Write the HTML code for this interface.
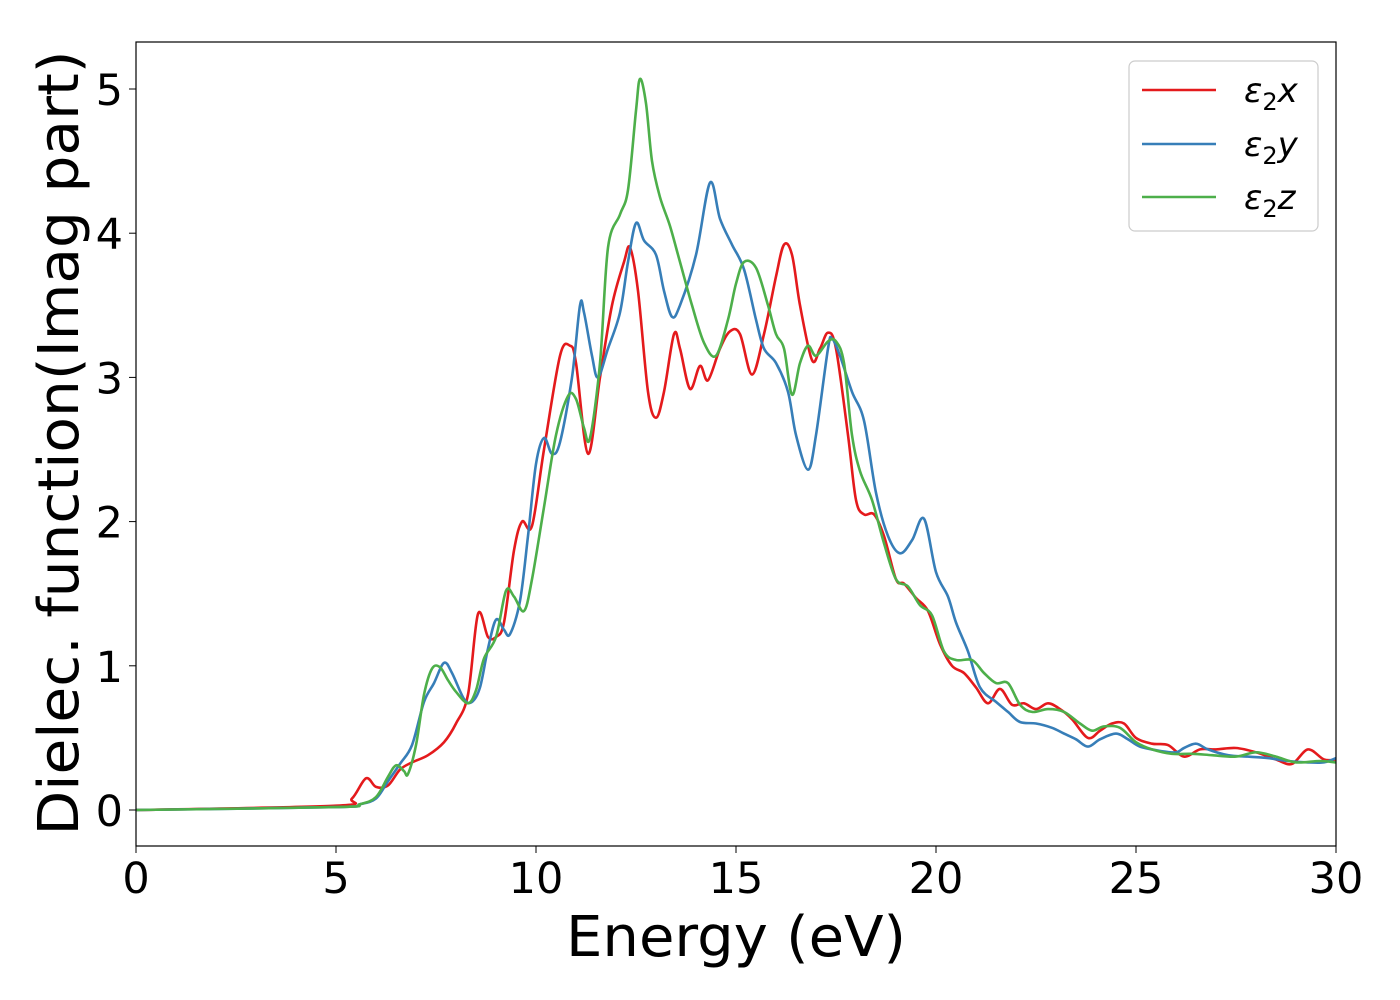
<!DOCTYPE html>
<html><head><meta charset="utf-8"><style>
html,body{margin:0;padding:0;background:#fff;}
svg{display:block;font-family:"DejaVu Sans","Liberation Sans",sans-serif;}
</style></head><body>
<svg id="chart" width="1400" height="1000" viewBox="0 0 1400 1000">
<rect x="0" y="0" width="1400" height="1000" fill="#fff"/>
<g id="series"></g>
<rect x="136" y="42" width="1200" height="804" fill="none" stroke="#000" stroke-width="1.2"/>
<g id="xticks"></g>
<g id="yticks"></g>
<text x="736" y="956" font-size="56" text-anchor="middle" textLength="340" lengthAdjust="spacingAndGlyphs">Energy (eV)</text>
<text transform="translate(78,443) rotate(-90)" font-size="56" text-anchor="middle" textLength="785" lengthAdjust="spacingAndGlyphs">Dielec. function(Imag part)</text>
<g>
<rect x="1129" y="61" width="189" height="170" rx="6" fill="#fff" stroke="#ccc" stroke-width="1.2"/>
<g>
<line x1="1142" y1="90" x2="1216" y2="90" stroke="#e41a1c" stroke-width="2.5"/>
<text x="1244" y="102" font-size="34" font-style="italic">ε<tspan font-style="normal" font-size="24" dy="8">2</tspan><tspan dy="-8">x</tspan></text></g>
<g>
<line x1="1142" y1="144" x2="1216" y2="144" stroke="#377eb8" stroke-width="2.5"/>
<text x="1244" y="156" font-size="34" font-style="italic">ε<tspan font-style="normal" font-size="24" dy="8">2</tspan><tspan dy="-8">y</tspan></text></g>
<g>
<line x1="1142" y1="197" x2="1216" y2="197" stroke="#4daf4a" stroke-width="2.5"/>
<text x="1244" y="209" font-size="34" font-style="italic">ε<tspan font-style="normal" font-size="24" dy="8">2</tspan><tspan dy="-8">z</tspan></text></g>
</g>
</svg>
<script>
const xTicks=[0,5,10,15,20,25,30];
const yTicks=[0,1,2,3,4,5];
const redE=[0,5.0,5.4,5.75,6.0,6.3,6.6,6.9,7.3,7.7,8.0,8.3,8.55,8.8,9.0,9.2,9.45,9.65,9.9,10.2,10.6,10.85,11.0,11.3,11.6,11.9,12.2,12.35,12.55,12.8,13.0,13.2,13.45,13.6,13.85,14.1,14.3,14.6,14.85,15.1,15.4,15.7,16.0,16.2,16.4,16.6,16.9,17.1,17.3,17.5,17.8,18.0,18.2,18.45,18.7,19.0,19.2,19.5,19.8,20.1,20.4,20.7,21.0,21.3,21.6,21.9,22.2,22.5,22.8,23.1,23.4,23.8,24.1,24.4,24.7,25.0,25.4,25.8,26.2,26.6,27.0,27.5,28.0,28.5,28.9,29.3,29.7,30];
const redV=[0,0.03,0.08,0.22,0.16,0.17,0.28,0.33,0.38,0.47,0.6,0.8,1.36,1.2,1.2,1.3,1.8,2.0,1.97,2.5,3.15,3.22,3.1,2.47,3.0,3.5,3.8,3.9,3.6,2.9,2.72,2.9,3.3,3.2,2.92,3.08,2.98,3.2,3.32,3.3,3.02,3.3,3.7,3.92,3.85,3.5,3.12,3.2,3.31,3.2,2.6,2.15,2.05,2.05,1.9,1.6,1.57,1.47,1.38,1.15,1.0,0.95,0.85,0.74,0.84,0.73,0.74,0.7,0.74,0.7,0.63,0.5,0.55,0.6,0.6,0.5,0.46,0.45,0.37,0.42,0.42,0.43,0.4,0.35,0.32,0.42,0.35,0.35];
const blueE=[0,5.0,5.6,6.0,6.3,6.6,6.9,7.2,7.45,7.7,7.9,8.2,8.4,8.6,8.8,9.0,9.2,9.35,9.6,9.8,10.0,10.2,10.4,10.6,10.9,11.1,11.2,11.4,11.55,11.8,12.1,12.3,12.5,12.7,13.0,13.2,13.4,13.6,14.0,14.35,14.6,14.9,15.2,15.5,15.7,16.0,16.3,16.5,16.8,17.0,17.3,17.4,17.6,17.9,18.2,18.5,18.8,19.1,19.4,19.7,20.0,20.3,20.5,20.8,21.1,21.5,21.8,22.1,22.5,22.9,23.2,23.5,23.8,24.1,24.5,24.8,25.1,25.6,26.0,26.2,26.5,26.8,27.3,27.8,28.3,28.8,29.3,29.7,30];
const blueV=[0,0.02,0.04,0.08,0.2,0.32,0.45,0.75,0.88,1.02,0.95,0.77,0.75,0.85,1.12,1.32,1.25,1.22,1.45,1.9,2.4,2.58,2.47,2.55,3.0,3.5,3.45,3.15,3.0,3.2,3.45,3.8,4.07,3.95,3.85,3.6,3.42,3.5,3.85,4.35,4.1,3.92,3.75,3.4,3.2,3.1,2.9,2.6,2.36,2.6,3.2,3.27,3.15,2.9,2.7,2.2,1.9,1.78,1.87,2.02,1.65,1.48,1.3,1.1,0.85,0.75,0.68,0.61,0.6,0.57,0.53,0.49,0.44,0.49,0.53,0.49,0.44,0.41,0.4,0.43,0.46,0.42,0.38,0.37,0.36,0.34,0.33,0.33,0.36];
const greenE=[0,5.0,5.6,6.0,6.3,6.5,6.7,6.8,7.0,7.2,7.4,7.6,7.8,8.0,8.3,8.5,8.7,9.0,9.25,9.45,9.7,9.9,10.2,10.5,10.8,11.0,11.2,11.35,11.6,11.8,12.1,12.3,12.5,12.6,12.75,12.9,13.1,13.35,13.6,13.9,14.2,14.5,14.8,15.0,15.2,15.5,15.8,16.0,16.2,16.4,16.6,16.8,17.0,17.3,17.5,17.7,17.9,18.1,18.4,18.7,19.0,19.3,19.6,19.9,20.2,20.5,20.9,21.2,21.5,21.8,22.1,22.4,22.8,23.2,23.6,23.9,24.2,24.6,25.0,25.4,25.9,26.4,26.9,27.5,28.0,28.5,29.0,29.6,30];
const greenV=[0,0.02,0.04,0.09,0.23,0.31,0.27,0.25,0.45,0.8,0.98,0.99,0.9,0.82,0.74,0.83,1.05,1.2,1.52,1.48,1.38,1.6,2.1,2.6,2.87,2.85,2.65,2.58,3.1,3.9,4.13,4.3,4.85,5.07,4.9,4.5,4.25,4.05,3.8,3.5,3.24,3.15,3.4,3.65,3.8,3.76,3.5,3.3,3.2,2.88,3.1,3.22,3.15,3.25,3.25,3.1,2.6,2.35,2.15,1.85,1.6,1.55,1.42,1.35,1.1,1.04,1.04,0.95,0.88,0.88,0.73,0.68,0.7,0.68,0.6,0.55,0.58,0.57,0.47,0.42,0.39,0.39,0.38,0.37,0.4,0.37,0.33,0.34,0.33];

const X=e=>136+e*40, Y=v=>810-v*144.2;
const NS='http://www.w3.org/2000/svg';
function smoothPath(xs,ys){
  const p=xs.map((e,i)=>[X(e),Y(ys[i])]);
  let d='M'+p[0][0].toFixed(1)+','+p[0][1].toFixed(1);
  for(let i=0;i<p.length-1;i++){
    const p0=p[Math.max(0,i-1)],p1=p[i],p2=p[i+1],p3=p[Math.min(p.length-1,i+2)];
    const c1=[p1[0]+(p2[0]-p0[0])/6,p1[1]+(p2[1]-p0[1])/6];
    const c2=[p2[0]-(p3[0]-p1[0])/6,p2[1]-(p3[1]-p1[1])/6];
    d+='C'+c1[0].toFixed(1)+','+c1[1].toFixed(1)+' '+c2[0].toFixed(1)+','+c2[1].toFixed(1)+' '+p2[0].toFixed(1)+','+p2[1].toFixed(1);
  }
  return d;
}
const sg=document.getElementById('series');
[[redE,redV,'#e41a1c','series-eps2x'],[blueE,blueV,'#377eb8','series-eps2y'],[greenE,greenV,'#4daf4a','series-eps2z']].forEach(s=>{
  const p=document.createElementNS(NS,'path');
  p.setAttribute('d',smoothPath(s[0],s[1]));
  p.setAttribute('fill','none');p.setAttribute('stroke',s[2]);p.setAttribute('stroke-width','2.6');
  p.setAttribute('stroke-linejoin','round');
  
  
  sg.appendChild(p);
});
const xg=document.getElementById('xticks');
xTicks.forEach(t=>{
  const l=document.createElementNS(NS,'line');
  l.setAttribute('x1',X(t));l.setAttribute('x2',X(t));l.setAttribute('y1',846);l.setAttribute('y2',853);l.setAttribute('stroke','#000');
  
  
  xg.appendChild(l);
  const tx=document.createElementNS(NS,'text');
  tx.setAttribute('x',X(t));tx.setAttribute('y',893);tx.setAttribute('font-size','43');tx.setAttribute('text-anchor','middle');
  tx.textContent=t;
  
  
  xg.appendChild(tx);
});
const yg=document.getElementById('yticks');
yTicks.forEach(t=>{
  const l=document.createElementNS(NS,'line');
  l.setAttribute('x1',129);l.setAttribute('x2',136);l.setAttribute('y1',Y(t));l.setAttribute('y2',Y(t));l.setAttribute('stroke','#000');
  
  
  yg.appendChild(l);
  const tx=document.createElementNS(NS,'text');
  tx.setAttribute('x',123);tx.setAttribute('y',Y(t)+16);tx.setAttribute('font-size','43');tx.setAttribute('text-anchor','end');
  tx.textContent=t;
  
  
  yg.appendChild(tx);
});
</script>
</body></html>
